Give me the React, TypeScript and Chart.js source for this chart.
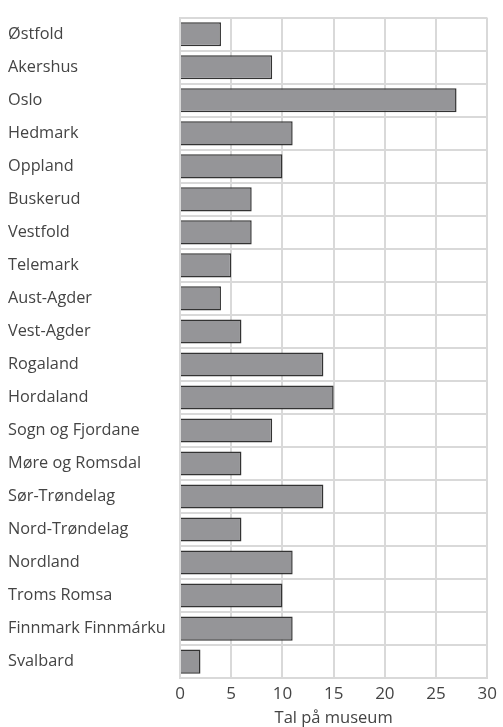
import React, { useEffect, useRef } from "react";
import { Chart, registerables } from "chart.js";

Chart.register(...registerables);

const categories = [
  "Østfold", "Akershus", "Oslo", "Hedmark", "Oppland", "Buskerud", "Vestfold",
  "Telemark", "Aust-Agder", "Vest-Agder", "Rogaland", "Hordaland",
  "Sogn og Fjordane", "Møre og Romsdal", "Sør-Trøndelag", "Nord-Trøndelag",
  "Nordland", "Troms Romsa", "Finnmark Finnmárku", "Svalbard",
];
const museumCounts = [4, 9, 27, 11, 10, 7, 7, 5, 4, 6, 14, 15, 9, 6, 14, 6, 11, 10, 11, 2];
const xTitle = "Tal på museum";

export default function App() {
  const ref = useRef<HTMLCanvasElement>(null);
  useEffect(() => {
    if (!ref.current) return;
    const chart = new Chart(ref.current, {
      type: "bar",
      data: {
        labels: categories,
        datasets: [
          {
            data: museumCounts,
            backgroundColor: "#959598",
            borderColor: "#333333",
            borderWidth: 1.5,
            barPercentage: 0.73,
            categoryPercentage: 1,
          },
        ],
      },
      options: {
        indexAxis: "y",
        responsive: false,
        animation: false,
        layout: { padding: { left: 8, top: 7, right: 5, bottom: 0 } },
        plugins: { legend: { display: false }, tooltip: { enabled: false } },
        scales: {
          x: {
            min: 0,
            max: 30,
            ticks: { stepSize: 5, color: "#444444", font: { family: "Open Sans", size: 17 }, padding: 6 },
            grid: { color: "#d9d9d9", lineWidth: 2, drawTicks: false },
            border: { color: "#d9d9d9", width: 2 },
            title: { display: true, text: xTitle, color: "#444444", font: { family: "Open Sans", size: 16.5, lineHeight: 1 }, padding: { top: 0, bottom: 0 } },
          },
          y: {
            ticks: { color: "#444444", font: { family: "Open Sans", size: 16.3 }, crossAlign: "far", padding: 8 },
            grid: { color: "#d9d9d9", lineWidth: 2, drawTicks: false, offset: true },
            border: { color: "#d9d9d9", width: 2 },
            afterFit: (scale: any) => { scale.width = 172; },
          },
        },
      },
    });
    return () => chart.destroy();
  }, []);
  return (
    <div style={{ position: "absolute", left: 0, top: 0, width: 503, height: 727, background: "#fff" }}>
      <canvas ref={ref} width={503} height={727} style={{ width: 503, height: 727 }} />
    </div>
  );
}
